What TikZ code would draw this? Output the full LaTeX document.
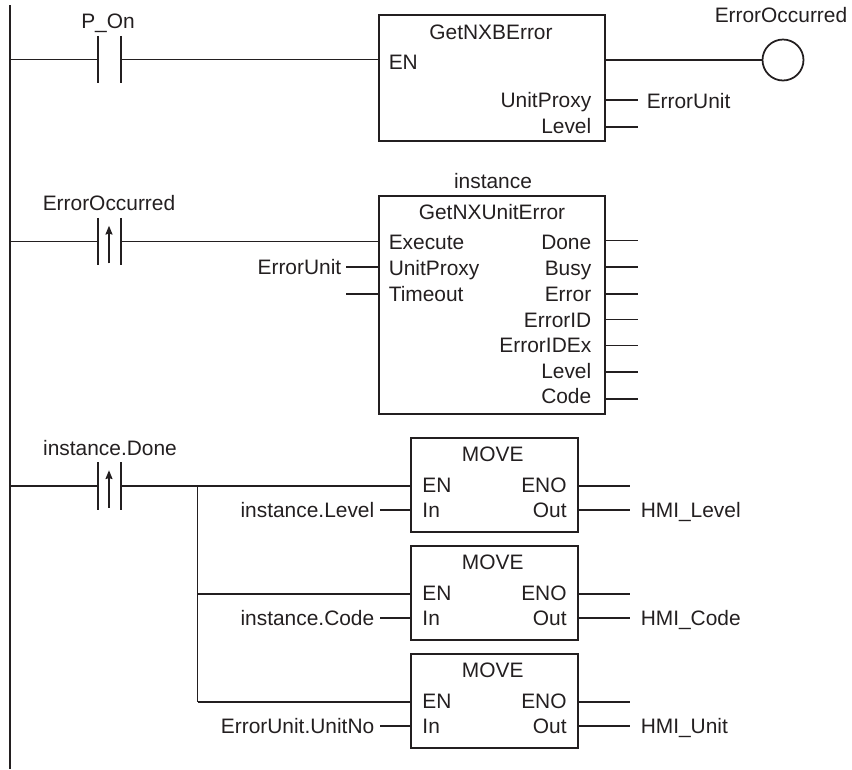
\documentclass[tikz,border=0pt]{standalone}
\usepackage{fontspec}
\setmainfont{Liberation Sans}
\usetikzlibrary{arrows.meta, calc}
\definecolor{cink}{HTML}{231F20}
\tikzset{
  every picture/.style={x=0.02cm, y=-0.02cm, line width=0.85pt, draw=cink},
  lbl/.style={font=\fontsize{11.9}{14}\selectfont, text=cink, inner sep=0pt, anchor=base},
  lbll/.style={lbl, anchor=base west},
  lblr/.style={lbl, anchor=base east},
  fblock/.style={draw=cink, rectangle, line width=1.1pt, outer sep=0pt, inner sep=0pt},
  movebox/.style={fblock, minimum width=3.34cm, minimum height=1.87cm},
  contact/.style={rectangle, inner sep=0pt, outer sep=0pt, minimum width=0.46cm, minimum height=0.95cm},
  coil/.style={circle, draw=cink, line width=1pt, inner sep=0pt, outer sep=0pt, minimum size=0.82cm},
  wire/.style={draw=cink, line width=0.85pt},
  rising/.style={draw=cink, line width=0.85pt, -{Stealth[length=5pt, width=4pt, inset=0.6pt]}},
}

\begin{document}
\begin{tikzpicture}
  \useasboundingbox (0,0) rectangle (852,769);
  % power rail
  \coordinate (railtop) at (10,5);
  \coordinate (railbot) at (10,769);
  \draw[wire, line width=1.5pt] (railtop) -- (railbot);
  % contacts
  \node[contact] (con1) at (109.5,59.5) {};
  \node[contact] (con2) at (109.5,241.5) {};
  \node[contact] (con3) at (109.5,486) {};
  \foreach \c in {con1,con2,con3} {
    \draw[wire] (\c.north west) -- (\c.south west);
    \draw[wire] (\c.north east) -- (\c.south east);
    \draw[wire] (railtop |- \c) -- (\c.west);
  }
  \foreach \c in {con2,con3} \draw[rising] ($(\c.south)+(-0.5,-2)$) -- ($(\c.north)+(-0.5,8)$);
  \node[lbl] (conlbl1) at (108,28) {P\_On};
  \node[lbl] (conlbl2) at (109,210) {ErrorOccurred};
  \node[lbl] (conlbl3) at (110,455) {instance.Done};

  % first rung
  \node[fblock, minimum width=4.53cm, minimum height=2.52cm] (fb1) at (492,78) {};
  \node[coil] (out1) at (783,60) {};
  \draw[wire] (con1.east) -- (fb1.west |- con1);
  \draw[wire] (fb1.east |- out1) -- (out1.west);
  \node[lbl] (fb1name) at (491,39.5) {GetNXBError};
  \node[lbll] (fb1en) at (388,69.5) {EN};
  \node[lblr] (fb1unit) at (592,107) {UnitProxy};
  \node[lblr] (fb1lev) at (592,133) {Level};
  \node[lbll] (fb1var) at (646,108) {ErrorUnit};
  \node[lbll] (out1lbl) at (714,22.7) {ErrorOccurred};
  \foreach \y/\n in {100/a,127/b} {
    \coordinate (fb1o\n) at (638,\y);
    \draw[wire] (fb1.east |- fb1o\n) -- (fb1o\n);
  }

  % second rung
  \node[fblock, minimum width=4.53cm, minimum height=4.36cm] (fb2) at (492,305) {};
  \draw[wire] (con2.east) -- (fb2.west |- con2);
  \node[lbl] (fb2inst) at (493,188) {instance};
  \node[lbl] (fb2name) at (492,219) {GetNXUnitError};
  \foreach \y/\t in {249/Execute,275/UnitProxy,301/Timeout}
    \node[lbll] (fb2\t) at (388,\y) {\t};
  \foreach \y/\t in {249/Done,275/Busy,301/Error,327/ErrorID,352/ErrorIDEx,378/Level,403/Code}
    \node[lblr] (fb2\t) at (592,\y) {\t};
  \foreach \y/\n in {240.7/a,267/b,294/c,319.5/d,345.5/e,372/f,399/g} {
    \coordinate (fb2o\n) at (638,\y);
    \draw[wire] (fb2.east |- fb2o\n) -- (fb2o\n);
  }
  \coordinate (fb2ia) at (346,267);
  \coordinate (fb2ib) at (347,294);
  \foreach \n in {a,b} \draw[wire] (fb2ia |- fb2i\n) -- (fb2.west |- fb2i\n);
  \node[lblr] (fb2var) at (342,274) {ErrorUnit};

  % third rung, three moves on one branch
  \coordinate (branch) at (197.5,486);
  \coordinate (branchend) at (197.5,702);
  \draw[wire] (branch) -- (branchend);
  \foreach \i/\y/\src/\dst in {1/485/instance.Level/HMI\_Level, 2/593/instance.Code/HMI\_Code, 3/701/ErrorUnit.UnitNo/HMI\_Unit} {
    \node[movebox] (mv\i) at (494.5,\y) {};
    \coordinate (mv\i en) at (197.5,\y+1);
    \coordinate (mv\i eno) at (630,\y+1);
    \coordinate (mv\i in) at (380,\y+25);
    \coordinate (mv\i out) at (630,\y+25);
    \draw[wire] (mv\i en) -- (mv\i.west |- mv\i en);
    \draw[wire] (mv\i in) -- (mv\i.west |- mv\i in);
    \draw[wire] (mv\i.east |- mv\i eno) -- (mv\i eno);
    \draw[wire] (mv\i.east |- mv\i out) -- (mv\i out);
    \node[lbl] (mv\i name) at (492.7,\y-23.3) {MOVE};
    \node[lbll] (mv\i lblen) at (421.7,\y+7.7) {EN};
    \node[lbll] (mv\i lblin) at (421.7,\y+32.7) {In};
    \node[lblr] (mv\i lbleno) at (567.3,\y+7.7) {ENO};
    \node[lblr] (mv\i lblout) at (567.3,\y+32.7) {Out};
    \node[lblr] (mv\i src) at (375,\y+32.7) {\src};
    \node[lbll] (mv\i dst) at (640,\y+32.7) {\dst};
  }
  \draw[wire] (con3.east) -- (mv1.west |- con3);
\end{tikzpicture}
\end{document}
